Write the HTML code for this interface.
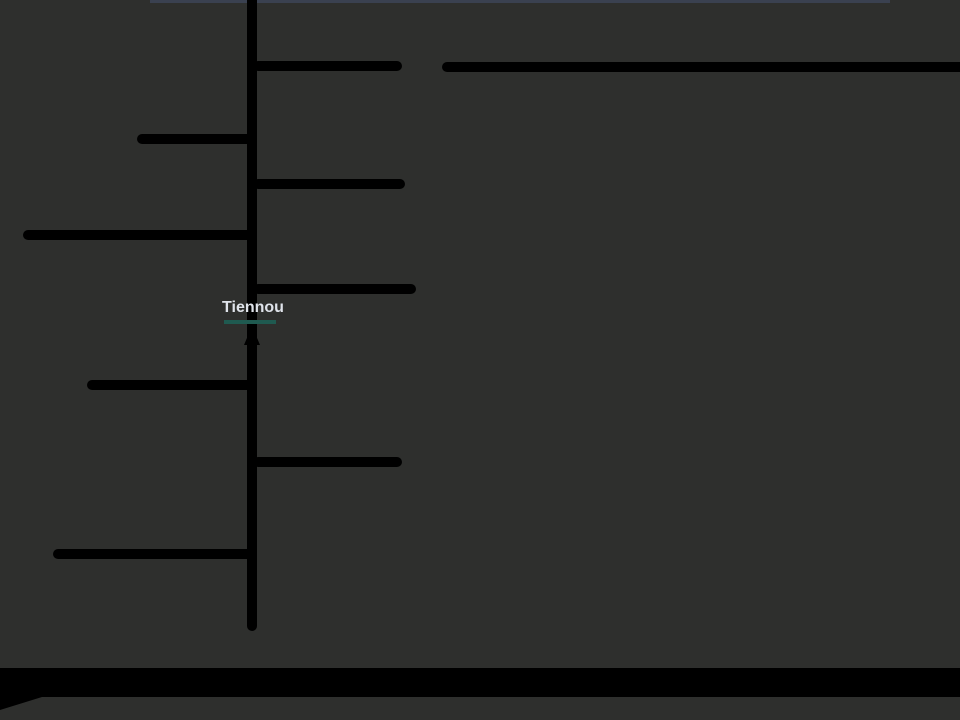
<!DOCTYPE html>
<html><head><style>html,body{margin:0;padding:0;background:#2d2e2c;width:960px;height:720px;overflow:hidden}</style></head>
<body>
<svg width="960" height="720" xmlns="http://www.w3.org/2000/svg">
<rect width="960" height="720" fill="#2e2f2d"/>
<rect x="150" y="0" width="740" height="3" fill="#3a4150"/>
<g stroke="#000" stroke-width="10" stroke-linecap="round">
<line x1="252" y1="0" x2="252" y2="626"/>
<line x1="258" y1="66" x2="397" y2="66"/>
<line x1="447" y1="67" x2="965" y2="67"/>
<line x1="142" y1="139" x2="250" y2="139"/>
<line x1="258" y1="184" x2="400" y2="184"/>
<line x1="28" y1="235" x2="250" y2="235"/>
<line x1="258" y1="289" x2="411" y2="289"/>
<line x1="92" y1="385" x2="250" y2="385"/>
<line x1="258" y1="462" x2="397" y2="462"/>
<line x1="58" y1="554" x2="250" y2="554"/>
</g>
<polygon points="252,326 244,345 260,345" fill="#000"/>
<polygon points="0,668 960,668 960,697 42,697 0,710" fill="#000"/>
<rect x="224" y="320" width="52" height="4" fill="#1f5a50"/>
<text x="253" y="312" text-anchor="middle" font-family="Liberation Sans, sans-serif" font-size="16" font-weight="bold" fill="#dfe3ea">Tiennou</text>
</svg>
</body></html>
